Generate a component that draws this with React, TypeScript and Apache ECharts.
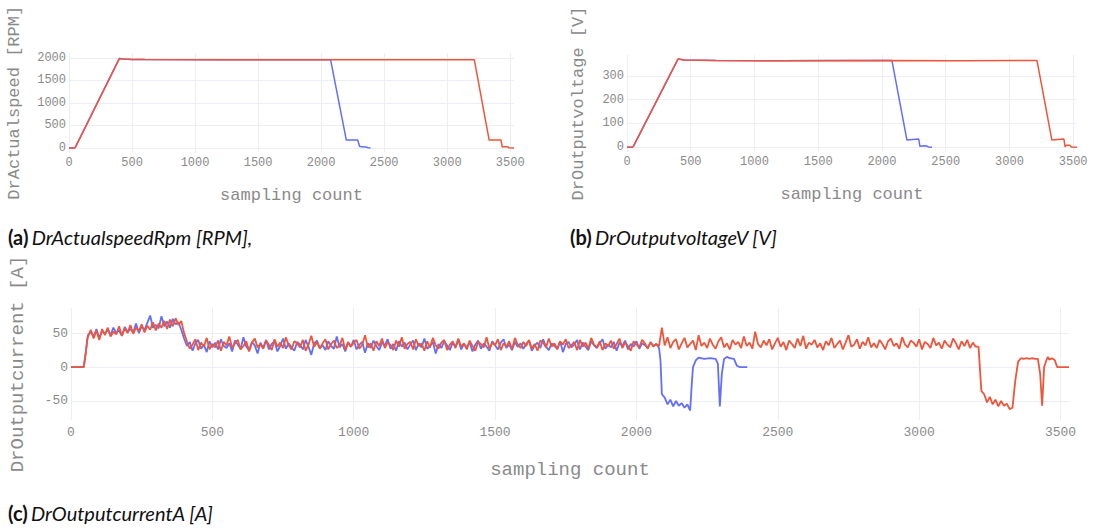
import React, { useEffect, useRef } from "react";
import * as echarts from "echarts";

// ---------- tick labels ----------
const X_TICKS = [0, 500, 1000, 1500, 2000, 2500, 3000, 3500];
const SPEED_TICKS = [0, 500, 1000, 1500, 2000];
const VOLT_TICKS = [0, 100, 200, 300];
const CUR_TICKS = [-50, 0, 50];

// ---------- (a) speed [RPM] ----------
const speedBlue: [number, number][] = [
  [0, 0], [40, 0], [50, 15], [400, 1990], [430, 1978], [500, 1968], [600, 1963],
  [1200, 1962], [2075, 1962], [2200, 175], [2290, 178], [2305, 40], [2320, 25],
  [2355, 20], [2375, 5], [2392, 0],
];
const speedRed: [number, number][] = [
  [0, 0], [40, 0], [50, 15], [400, 1990], [430, 1978], [500, 1968], [600, 1963],
  [1200, 1962], [2500, 1962], [3215, 1962], [3333, 175], [3427, 180], [3437, 20],
  [3445, 30], [3475, 28], [3490, 5], [3530, 0],
];

// ---------- (b) voltage [V] ----------
const voltBlue: [number, number][] = [
  [0, 0], [40, 0], [50, 4], [400, 371], [450, 367], [700, 365], [1200, 364],
  [1600, 365], [2078, 365], [2196, 30], [2288, 35], [2298, 4], [2330, 6],
  [2353, 5], [2365, 1], [2392, 0],
];
const voltRed: [number, number][] = [
  [0, 0], [40, 0], [50, 4], [400, 371], [450, 367], [700, 365], [1200, 364],
  [2000, 365], [2600, 364], [3216, 365], [3333, 30], [3427, 35], [3437, 2],
  [3445, 8], [3475, 8], [3485, 1], [3530, 0],
];

// ---------- (c) current [A] ----------
const curStart: [number, number][] = [[0, 0], [45, 0], [52, 20], [58, 42]];

// x = 60 .. 390, step 10
const curBlueRise = [
  47, 52, 45, 56, 43, 53, 49, 55, 47, 58, 50, 54, 46, 59, 52, 56, 51, 64, 50, 60,
  55, 65, 76, 58, 62, 57, 75, 60, 67, 58, 71, 63, 66, 55,
];
const curRedRise = [
  44, 55, 42, 54, 40, 56, 47, 58, 45, 52, 48, 60, 46, 57, 50, 62, 49, 58, 53, 63,
  51, 61, 55, 66, 54, 64, 58, 68, 56, 70, 60, 72, 62, 68,
];
// x = 410 .. 2080, step 10
const curBlueMid = [
  31, 37, 24, 35, 40, 27, 33, 22, 38, 29,
  36, 26, 41, 31, 28, 35, 23, 39, 33, 27,
  44, 30, 25, 37, 32, 20, 36, 28, 40, 26,
  34, 38, 23, 31, 42, 27, 35, 29, 24, 37,
  33, 26, 40, 30, 18, 35, 39, 28, 32, 25,
  38, 31, 27, 45, 29, 34, 23, 36, 30, 40,
  26, 33, 37, 21, 35, 28, 39, 31, 25, 36,
  32, 41, 27, 34, 24, 38, 30, 36, 26, 33,
  39, 25, 35, 29, 42, 27, 31, 37, 20, 34,
  28, 38, 32, 25, 36, 30, 40, 26, 34, 29,
  37, 23, 33, 39, 27, 35, 30, 24, 38, 32,
  26, 36, 41, 28, 33, 25, 37, 30, 35, 27,
  34, 39, 24, 32, 36, 28, 41, 30, 25, 35,
  31, 27, 38, 22, 34, 37, 29, 33, 40, 26,
  36, 30, 25, 38, 32, 28, 35, 41, 27, 33,
  29, 37, 24, 36, 31, 39, 26, 34, 30, 38,
  27, 35, 32, 29, 36, 31, 34, 28,
];
const curRedMid = [
  38, 27, 33, 41, 25, 36, 30, 43, 26, 34,
  29, 39, 24, 37, 32, 45, 28, 35, 40, 26,
  31, 38, 23, 36, 42, 29, 34, 27, 39, 33,
  25, 41, 30, 36, 28, 44, 32, 26, 38, 35,
  29, 40, 24, 33, 46, 30, 37, 27, 35, 41,
  26, 34, 39, 28, 32, 43, 25, 37, 30, 36,
  40, 27, 33, 47, 29, 35, 24, 38, 31, 42,
  28, 36, 33, 25, 39, 30, 44, 27, 34, 37,
  26, 41, 31, 35, 24, 38, 29, 43, 32, 27,
  36, 40, 25, 33, 38, 28, 42, 30, 35, 26,
  39, 31, 24, 37, 34, 29, 44, 27, 36, 32,
  41, 25, 35, 30, 38, 26, 43, 33, 28, 37,
  31, 40, 27, 34, 24, 39, 36, 29, 42, 30,
  35, 26, 38, 33, 41, 28, 32, 37, 25, 40,
  30, 36, 27, 43, 33, 29, 38, 25, 35, 31,
  39, 27, 34, 42, 28, 36, 31, 24, 38, 33,
  29, 40, 35, 27, 37, 30, 34, 31,
];
// x = 2090 .. 3200, step 10
const curRedLate = [
  58, 32, 44, 28, 37, 41, 26, 35, 43, 29,
  34, 39, 25, 47, 31, 36, 28, 42, 33, 27,
  38, 44, 29, 35, 26, 40, 33, 37, 28, 45,
  31, 36, 27, 52, 34, 29, 39, 32, 41, 26,
  35, 43, 30, 37, 25, 39, 34, 28, 42, 31,
  46, 27, 36, 33, 40, 29, 35, 25, 38, 32,
  43, 28, 34, 39, 26, 36, 47, 30, 33, 41,
  27, 37, 32, 44, 29, 35, 28, 40, 34, 26,
  38, 42, 31, 35, 27, 44, 33, 29, 39, 36,
  30, 41, 26, 37, 34, 28, 43, 32, 36, 27,
  39, 33, 29, 42, 35, 26, 38, 31, 40, 28,
  36, 30,
];
// x = 2100 .. 2190, step 10
const curBlueNeg = [-45, -55, -48, -58, -50, -57, -53, -60, -55, -64];
// x = 3230 .. 3330, step 10
const curRedNeg = [-40, -52, -44, -55, -48, -58, -50, -57, -54, -62, -60];

const curBlueTail: [number, number][] = [
  [2085, 10], [2090, -40], [2100, -46], [2195, -30], [2200, 0], [2210, 10], [2220, 14],
  [2240, 12], [2260, 13], [2280, 12], [2288, 5], [2295, -58], [2302, -10], [2310, 12],
  [2320, 15], [2330, 13], [2345, 12], [2355, 2], [2365, 0], [2392, 0],
];
const curRedTail: [number, number][] = [
  [3210, 30], [3220, -35], [3340, -20], [3350, 8], [3360, 13], [3370, 12], [3380, 13],
  [3390, 12], [3400, 13], [3410, 12], [3420, 12], [3428, -10], [3435, -57], [3442, 0],
  [3450, 10], [3455, 15], [3460, 11], [3470, 13], [3480, 10], [3488, 0], [3530, 0],
];

function run(start: number, step: number, vals: number[]): [number, number][] {
  return vals.map((v, i) => [start + i * step, v] as [number, number]);
}

const curBlue: [number, number][] = [
  ...curStart,
  ...run(60, 10, curBlueRise),
  [400, 42],
  ...run(410, 10, curBlueMid),
  ...curBlueTail.slice(0, 2),
  ...run(2100, 10, curBlueNeg),
  ...curBlueTail.slice(3),
];
const curRed: [number, number][] = [
  ...curStart,
  ...run(60, 10, curRedRise),
  [400, 50],
  ...run(410, 10, curRedMid),
  ...run(2090, 10, curRedLate),
  ...curRedTail.slice(0, 2),
  ...run(3230, 10, curRedNeg),
  ...curRedTail.slice(2),
];

const BLUE = "#636efa";
const RED = "#ef553b";
const GRID_C = "#ebeef5";
const TXT = "#8a8a8a";
const MONO = "'Liberation Mono', 'DejaVu Sans Mono', monospace";
const plain = (v: number) => String(v);

function xAxis(gridIndex: number, fs: number, nameSize: number, nameGap: number, margin: number) {
  return {
    type: "value",
    gridIndex,
    min: 0,
    max: 3530,
    name: "sampling count",
    nameLocation: "middle",
    nameGap,
    nameTextStyle: { fontFamily: MONO, fontSize: nameSize, color: TXT },
    axisLine: { show: false },
    axisTick: { show: false, customValues: X_TICKS },
    axisLabel: { customValues: X_TICKS, formatter: plain, fontFamily: MONO, fontSize: fs, color: TXT, margin },
    splitLine: { show: true, lineStyle: { color: GRID_C, width: 1 } },
  };
}

function yAxis(gridIndex: number, min: number, max: number, ticks: number[], name: string,
  fs: number, nameSize: number, nameGap: number) {
  return {
    type: "value",
    gridIndex,
    min,
    max,
    name,
    nameLocation: "middle",
    nameGap,
    nameTextStyle: { fontFamily: MONO, fontSize: nameSize, color: TXT },
    axisLine: { show: false },
    axisTick: { show: false, customValues: ticks },
    axisLabel: { customValues: ticks, formatter: plain, fontFamily: MONO, fontSize: fs, color: TXT, margin: 3 },
    splitLine: { show: true, lineStyle: { color: GRID_C, width: 1 } },
  };
}

function line(name: string, data: [number, number][], color: string, idx: number, width: number, z: number) {
  return {
    name,
    type: "line",
    xAxisIndex: idx,
    yAxisIndex: idx,
    data,
    showSymbol: false,
    symbol: "none",
    z,
    lineStyle: { color, width },
    itemStyle: { color },
  };
}

function caption(label: string, text: string, x: number, y: number) {
  return {
    type: "text",
    left: x,
    top: y,
    style: {
      text: `{b|${label}} {i|${text}}`,
      rich: {
        b: { fontFamily: "Lato", fontWeight: "bold", fontSize: 20, fill: "#111" },
        i: { fontFamily: "Lato", fontStyle: "italic", fontSize: 20, fill: "#111" },
      },
    },
  };
}

export default function App() {
  const ref = useRef<HTMLDivElement>(null);
  useEffect(() => {
    if (!ref.current) return;
    const chart = echarts.init(ref.current, null, { renderer: "svg" });
    chart.setOption({
      animation: false,
      backgroundColor: "#ffffff",
      grid: [
        { left: 69, top: 53, width: 445, height: 99.5, outerBoundsMode: "none", containLabel: false },
        { left: 627, top: 55, width: 450, height: 97, outerBoundsMode: "none", containLabel: false },
        { left: 71, top: 308, width: 998, height: 112, outerBoundsMode: "none", containLabel: false },
      ],
      xAxis: [xAxis(0, 12, 17, 34, 4), xAxis(1, 12, 17, 34, 4), xAxis(2, 13, 19, 40, 6)],
      yAxis: [
        yAxis(0, -100, 2110, SPEED_TICKS, "DrActualspeed [RPM]", 12, 17, 46),
        yAxis(1, -20, 388, VOLT_TICKS, "DrOutputvoltage [V]", 12, 17, 40),
        yAxis(2, -78, 87, CUR_TICKS, "DrOutputcurrent [A]", 13, 19, 44),
      ],
      series: [
        line("speed run 1", speedBlue, BLUE, 0, 1.5, 2),
        line("speed run 2", speedRed, RED, 0, 1.5, 3),
        line("voltage run 1", voltBlue, BLUE, 1, 1.5, 2),
        line("voltage run 2", voltRed, RED, 1, 1.5, 3),
        line("current run 1", curBlue, BLUE, 2, 1.8, 2),
        line("current run 2", curRed, RED, 2, 1.8, 3),
      ],
      graphic: [
        caption("(a)", "DrActualspeedRpm [RPM],", 8, 227),
        caption("(b)", "DrOutputvoltageV [V]", 570, 227),
        caption("(c)", "DrOutputcurrentA [A]", 8, 503),
      ],
    });
    return () => chart.dispose();
  }, []);
  return (
    <div
      ref={ref}
      style={{ position: "fixed", left: 0, top: 0, width: 1094, height: 532, background: "#fff" }}
    />
  );
}
